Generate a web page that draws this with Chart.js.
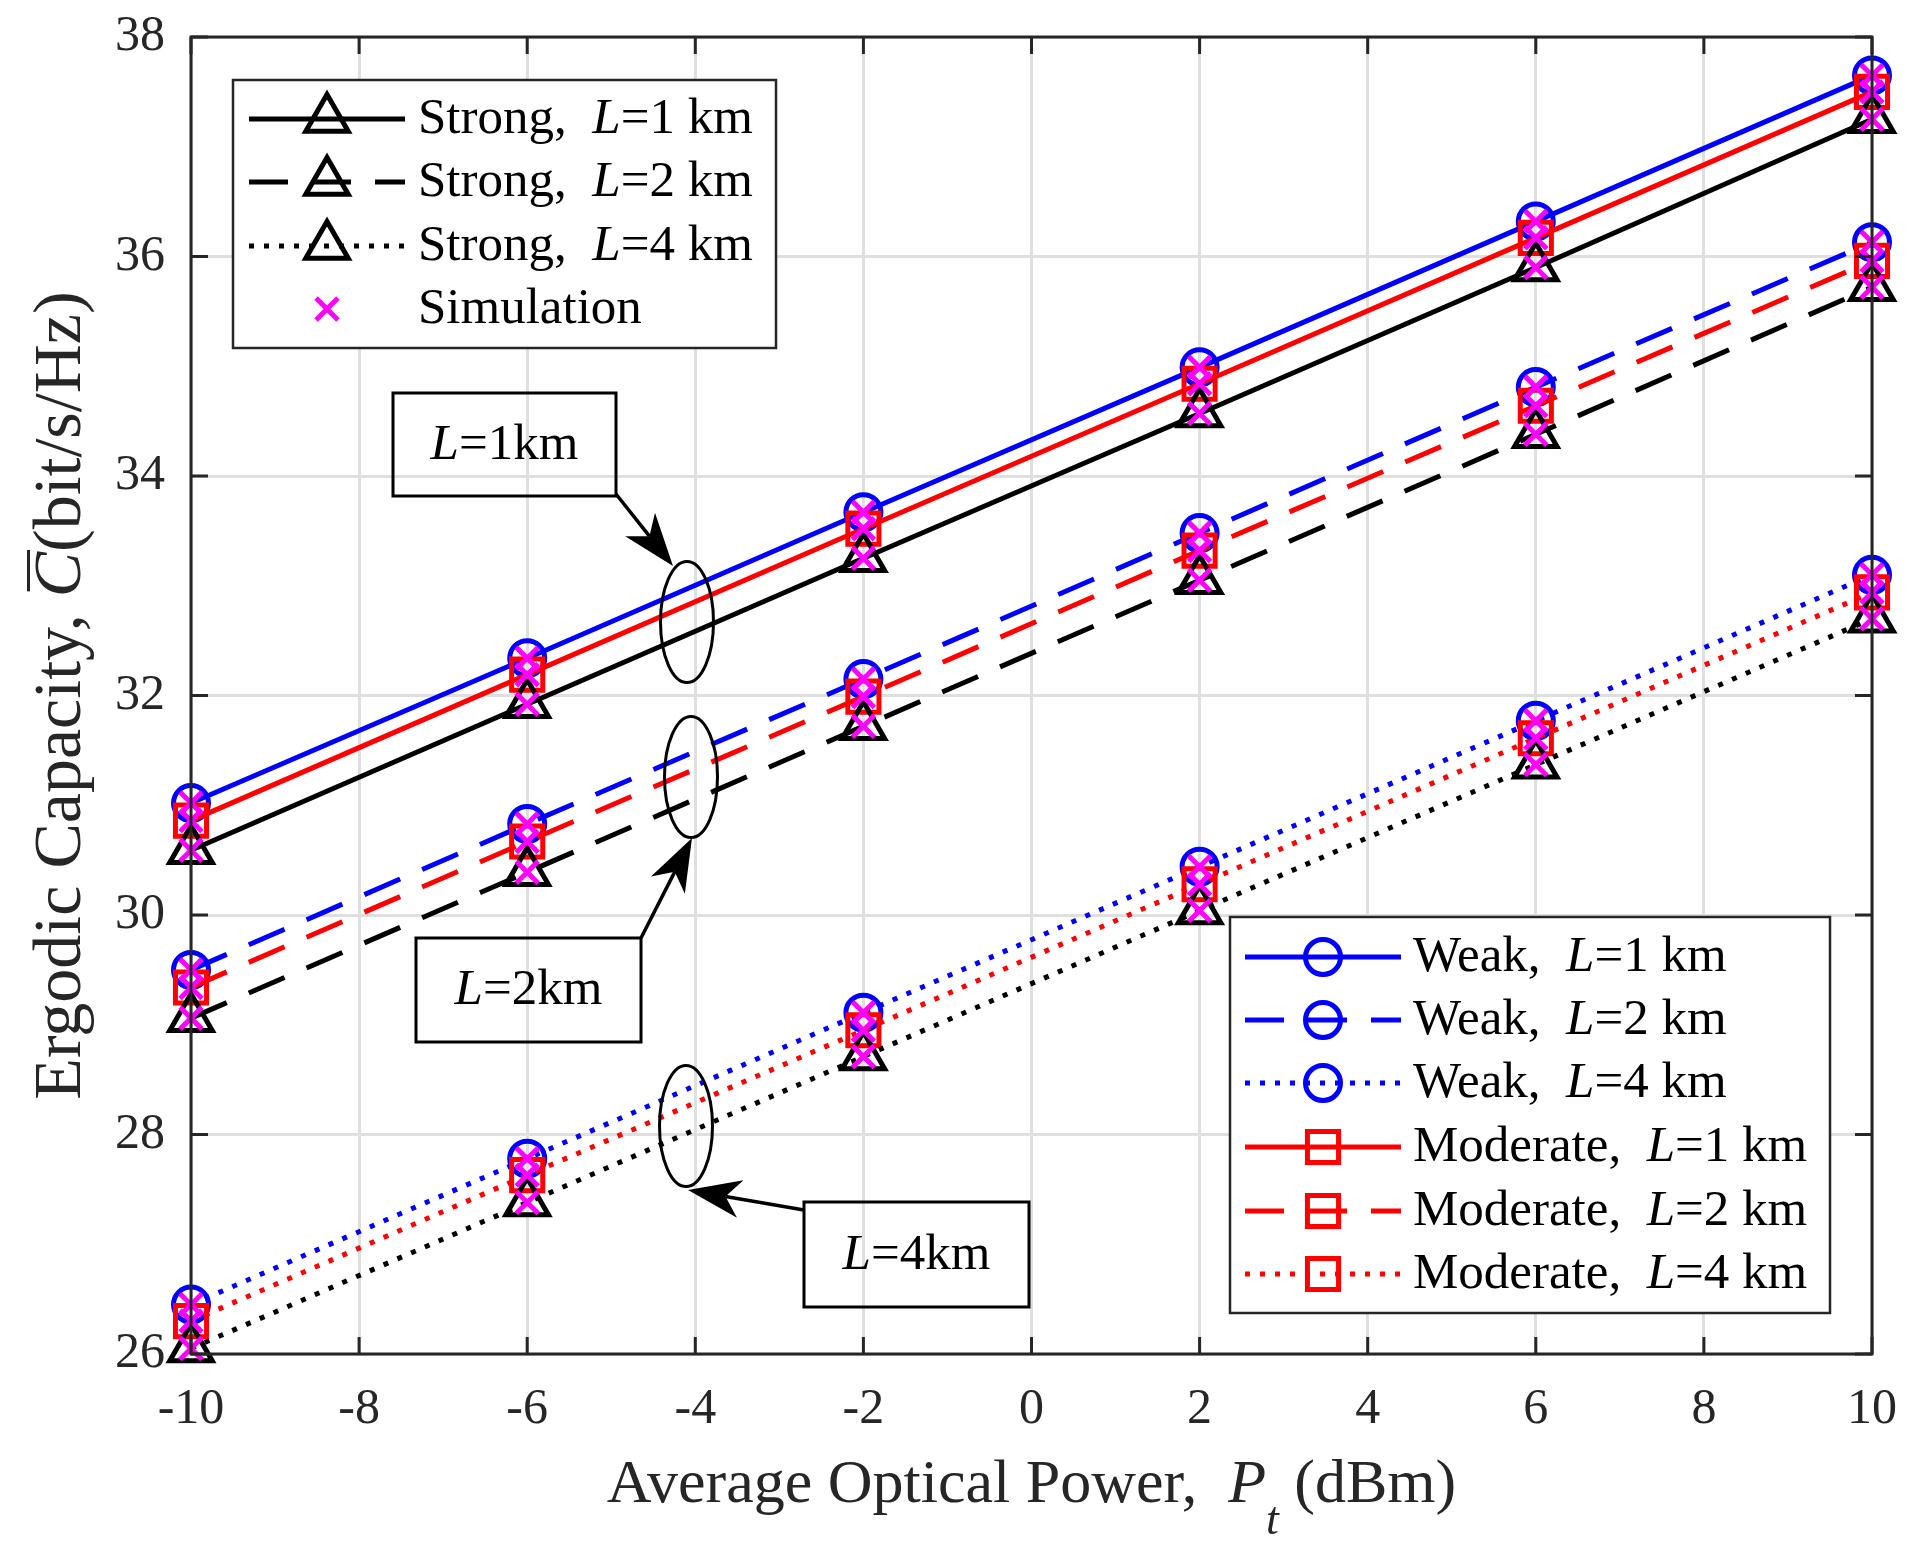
<!DOCTYPE html>
<html>
<head>
<meta charset="utf-8">
<script src="https://cdn.jsdelivr.net/npm/chart.js@4.4.0/dist/chart.umd.min.js"></script>
<style>
  html, body { margin: 0; padding: 0; background: #fff; }
  #wrap { width: 1920px; height: 1550px; position: relative; }
</style>
</head>
<body>
<div id="wrap"><canvas id="capChart"></canvas></div>
<script>
// ---------- Data ----------
const powerDbm = [-10, -6, -2, 2, 6, 10];

const weakL1 = [31.02, 32.34, 33.67, 34.99, 36.32, 37.65];
const weakL2 = [29.5, 30.83, 32.15, 33.48, 34.81, 36.13];
const weakL4 = [26.45, 27.78, 29.11, 30.44, 31.77, 33.1];

const moderateL1 = [30.86, 32.19, 33.52, 34.84, 36.17, 37.5];
const moderateL2 = [29.34, 30.67, 31.99, 33.32, 34.64, 35.96];
const moderateL4 = [26.3, 27.63, 28.95, 30.28, 31.61, 32.94];

const strongL1 = [30.59, 31.92, 33.25, 34.57, 35.9, 37.25];
const strongL2 = [29.06, 30.39, 31.72, 33.05, 34.38, 35.72];
const strongL4 = [26.05, 27.38, 28.71, 30.04, 31.37, 32.7];

const xRange = [-10, 10];
const yRange = [26, 38];

// ---------- Styles ----------
const FONT = '"Liberation Serif", "Times New Roman", serif';
const AXIS = "#262626";
const BLUE = "#0000ff", RED = "#ff0000", BLACK = "#000000", MAGENTA = "#ff00ff";
const SOLID = [], DASHED = [39, 24], DOTTED = [5, 10];
const markerSize = { circle: 17.5, rect: 22, triangle: 24.5, crossRot: 15.5 };
const orderOf = { Weak: 3, Moderate: 2, Strong: 1 };

const series = [
  { name: "Weak", dist: "1", values: weakL1, color: BLUE, marker: "circle", dash: SOLID },
  { name: "Weak", dist: "2", values: weakL2, color: BLUE, marker: "circle", dash: DASHED },
  { name: "Weak", dist: "4", values: weakL4, color: BLUE, marker: "circle", dash: DOTTED },
  { name: "Moderate", dist: "1", values: moderateL1, color: RED, marker: "rect", dash: SOLID },
  { name: "Moderate", dist: "2", values: moderateL2, color: RED, marker: "rect", dash: DASHED },
  { name: "Moderate", dist: "4", values: moderateL4, color: RED, marker: "rect", dash: DOTTED },
  { name: "Strong", dist: "1", values: strongL1, color: BLACK, marker: "triangle", dash: SOLID },
  { name: "Strong", dist: "2", values: strongL2, color: BLACK, marker: "triangle", dash: DASHED },
  { name: "Strong", dist: "4", values: strongL4, color: BLACK, marker: "triangle", dash: DOTTED },
];

const toPts = (vals) => vals.map((v, i) => ({ x: powerDbm[i], y: v }));

const datasets = series.map((s) => ({
  label: `${s.name}, L=${s.dist} km`,
  data: toPts(s.values),
  borderColor: s.color,
  borderWidth: 5,
  borderDash: s.dash,
  borderCapStyle: "butt",
  pointStyle: s.marker,
  pointRadius: markerSize[s.marker],
  pointBorderWidth: 5,
  pointBorderColor: s.color,
  pointBackgroundColor: "rgba(0,0,0,0)",
  tension: 0,
  clip: false,
  order: orderOf[s.name],
}));

// simulation marks sit on the analytical points
datasets.push({
  label: "Simulation",
  data: series.flatMap((s) => toPts(s.values)),
  showLine: false,
  borderColor: MAGENTA,
  pointStyle: "crossRot",
  pointRadius: markerSize.crossRot,
  pointBorderWidth: 5,
  pointBorderColor: MAGENTA,
  clip: false,
  order: 0,
});

// ---------- Drawing helpers ----------
function font(size, italic) {
  return `${italic ? "italic " : ""}${size}px ${FONT}`;
}

function runsWidth(ctx, runs) {
  let w = 0;
  runs.forEach((r) => { ctx.font = font(r.size, r.it); w += ctx.measureText(r.t).width; });
  return w;
}

function drawRuns(ctx, runs, x, y) {
  runs.forEach((r) => {
    ctx.font = font(r.size, r.it);
    ctx.fillText(r.t, x, y + (r.dy || 0));
    x += ctx.measureText(r.t).width;
  });
  return x;
}

function drawMarker(ctx, style, x, y, r, color) {
  ctx.save();
  ctx.setLineDash([]);
  ctx.strokeStyle = color;
  ctx.lineWidth = 5;
  ctx.beginPath();
  if (style === "circle") ctx.arc(x, y, r, 0, 2 * Math.PI);
  else if (style === "rect") { const h = r * Math.SQRT1_2; ctx.rect(x - h, y - h, 2 * h, 2 * h); }
  else if (style === "triangle") {
    ctx.moveTo(x, y - r); ctx.lineTo(x + r * 0.866, y + r / 2); ctx.lineTo(x - r * 0.866, y + r / 2); ctx.closePath();
  } else if (style === "crossRot") {
    const d = r * Math.SQRT1_2;
    ctx.moveTo(x - d, y - d); ctx.lineTo(x + d, y + d); ctx.moveTo(x + d, y - d); ctx.lineTo(x - d, y + d);
  }
  ctx.stroke();
  ctx.restore();
}

function drawLegend(ctx, box, rows, lineX, markX, textX) {
  ctx.save();
  ctx.fillStyle = "#fff";
  ctx.fillRect(box[0], box[1], box[2] - box[0], box[3] - box[1]);
  ctx.strokeStyle = AXIS;
  ctx.lineWidth = 2.5;
  ctx.strokeRect(box[0], box[1], box[2] - box[0], box[3] - box[1]);
  rows.forEach((row) => {
    if (row.dash) {
      ctx.save();
      ctx.strokeStyle = row.color;
      ctx.lineWidth = 5;
      ctx.lineCap = "butt";
      ctx.setLineDash(row.dash);
      ctx.beginPath(); ctx.moveTo(lineX[0], row.y); ctx.lineTo(lineX[1], row.y); ctx.stroke();
      ctx.restore();
    }
    drawMarker(ctx, row.marker, markX, row.y, markerSize[row.marker], row.color);
    ctx.fillStyle = "#000";
    ctx.textBaseline = "middle";
    drawRuns(ctx, row.runs, textX, row.y + 1);
  });
  ctx.restore();
}

function legendRow(s, y) {
  return {
    y, color: s.color, marker: s.marker, dash: s.dash,
    runs: [{ t: `${s.name},  `, size: 51 }, { t: "L", size: 51, it: true }, { t: `=${s.dist} km`, size: 51 }],
  };
}

function arrow(ctx, x1, y1, x2, y2) {
  const dx = x2 - x1, dy = y2 - y1, len = Math.hypot(dx, dy);
  const ux = dx / len, uy = dy / len, px = -uy, py = ux;
  const L = 53, W = 19, N = 38;
  ctx.beginPath(); ctx.moveTo(x1, y1); ctx.lineTo(x2 - ux * N, y2 - uy * N); ctx.stroke();
  ctx.beginPath();
  ctx.moveTo(x2, y2);
  ctx.lineTo(x2 - ux * L + px * W, y2 - uy * L + py * W);
  ctx.lineTo(x2 - ux * N, y2 - uy * N);
  ctx.lineTo(x2 - ux * L - px * W, y2 - uy * L - py * W);
  ctx.closePath();
  ctx.fill();
}

function labelBox(ctx, x0, y0, x1, y1, dist) {
  ctx.strokeRect(x0, y0, x1 - x0, y1 - y0);
  const runs = [{ t: "L", size: 51, it: true }, { t: `=${dist}km`, size: 51 }];
  const w = runsWidth(ctx, runs);
  ctx.textBaseline = "middle";
  drawRuns(ctx, runs, (x0 + x1) / 2 - w / 2, (y0 + y1) / 2 + 1);
}

// ---------- Plugin: box, inner ticks, legends, annotations, titles ----------
const decorations = {
  id: "decorations",
  afterDraw(chart) {
    const ctx = chart.ctx;
    const a = chart.chartArea;
    const xs = chart.scales.x, ys = chart.scales.y;

    // axes box + inward ticks
    ctx.save();
    ctx.strokeStyle = AXIS;
    ctx.lineWidth = 3;
    ctx.strokeRect(a.left, a.top, a.right - a.left, a.bottom - a.top);
    ctx.beginPath();
    xs.ticks.forEach((t) => {
      const p = xs.getPixelForValue(t.value);
      ctx.moveTo(p, a.bottom); ctx.lineTo(p, a.bottom - 17);
      ctx.moveTo(p, a.top); ctx.lineTo(p, a.top + 17);
    });
    ys.ticks.forEach((t) => {
      const p = ys.getPixelForValue(t.value);
      ctx.moveTo(a.left, p); ctx.lineTo(a.left + 17, p);
      ctx.moveTo(a.right, p); ctx.lineTo(a.right - 17, p);
    });
    ctx.stroke();
    ctx.restore();

    // ellipses, arrows and label boxes
    ctx.save();
    ctx.strokeStyle = "#000";
    ctx.fillStyle = "#000";
    ctx.lineWidth = 3;
    [[687, 622], [691, 777], [686, 1126]].forEach(([cx, cy]) => {
      ctx.beginPath(); ctx.ellipse(cx, cy, 26.5, 60.5, 0, 0, 2 * Math.PI); ctx.stroke();
    });
    ctx.lineWidth = 3.5;
    arrow(ctx, 616, 494, 673, 566);
    arrow(ctx, 641, 938, 692, 838);
    arrow(ctx, 804, 1210, 688, 1190);
    ctx.lineWidth = 3;
    labelBox(ctx, 393, 393, 616, 496, "1");
    labelBox(ctx, 416, 938, 641, 1042, "2");
    labelBox(ctx, 804, 1202, 1029, 1307, "4");
    ctx.restore();

    // legends
    const strong = series.filter((s) => s.name === "Strong");
    const rows1 = strong.map((s, i) => legendRow(s, [119, 182, 246][i]));
    rows1.push({ y: 309, color: MAGENTA, marker: "crossRot", dash: null, runs: [{ t: "Simulation", size: 51 }] });
    drawLegend(ctx, [233, 80, 776, 348], rows1, [249, 405], 327, 418);

    const others = series.filter((s) => s.name !== "Strong");
    const ys2 = [957, 1020, 1083, 1147, 1211, 1274];
    drawLegend(ctx, [1230, 917, 1830, 1313], others.map((s, i) => legendRow(s, ys2[i])), [1245, 1401], 1323, 1413);

    // x-axis title
    ctx.save();
    ctx.fillStyle = AXIS;
    ctx.textBaseline = "alphabetic";
    const xt = [
      { t: "Average Optical Power,  ", size: 62 },
      { t: "P", size: 62, it: true },
      { t: "t", size: 46, it: true, dy: 32 },
      { t: " (dBm)", size: 62 },
    ];
    const xw = runsWidth(ctx, xt);
    drawRuns(ctx, xt, (a.left + a.right) / 2 - xw / 2, 1502);
    ctx.restore();

    // y-axis title (rotated)
    ctx.save();
    ctx.fillStyle = AXIS;
    ctx.translate(80, (a.top + a.bottom) / 2);
    ctx.rotate(-Math.PI / 2);
    ctx.textBaseline = "alphabetic";
    const pre = [{ t: "Ergodic Capacity, ", size: 68 }];
    const cRun = [{ t: "C", size: 68, it: true }];
    const post = [{ t: "(bit/s/Hz)", size: 68 }];
    const total = runsWidth(ctx, pre) + runsWidth(ctx, cRun) + runsWidth(ctx, post);
    let x = -total / 2;
    x = drawRuns(ctx, pre, x, 0);
    const cStart = x;
    x = drawRuns(ctx, cRun, x, 0);
    ctx.fillRect(cStart + 6, -53, x - cStart - 4, 3);
    drawRuns(ctx, post, x, 0);
    ctx.restore();
  },
};

// ---------- Chart ----------
new Chart(document.getElementById("capChart"), {
  type: "line",
  data: { datasets },
  options: {
    responsive: true,
    maintainAspectRatio: false,
    animation: false,
    events: [],
    layout: { padding: { left: 0, top: 37, right: 48, bottom: 0 } },
    plugins: { legend: { display: false }, tooltip: { enabled: false } },
    scales: {
      x: {
        type: "linear",
        min: xRange[0],
        max: xRange[1],
        afterFit: (s) => { s.height = 196; s.paddingLeft = 0; s.paddingRight = 0; },
        ticks: { stepSize: 2, padding: 26, color: AXIS, font: { family: FONT, size: 50 } },
        grid: { color: "#dfdfdf", lineWidth: 3, drawTicks: false },
        border: { display: false },
      },
      y: {
        type: "linear",
        min: yRange[0],
        max: yRange[1],
        afterFit: (s) => { s.width = 191; s.paddingTop = 0; s.paddingBottom = 0; },
        ticks: { stepSize: 2, padding: 26, color: AXIS, font: { family: FONT, size: 50 } },
        grid: { color: "#dfdfdf", lineWidth: 3, drawTicks: false },
        border: { display: false },
      },
    },
  },
  plugins: [decorations],
});
</script>
</body>
</html>
